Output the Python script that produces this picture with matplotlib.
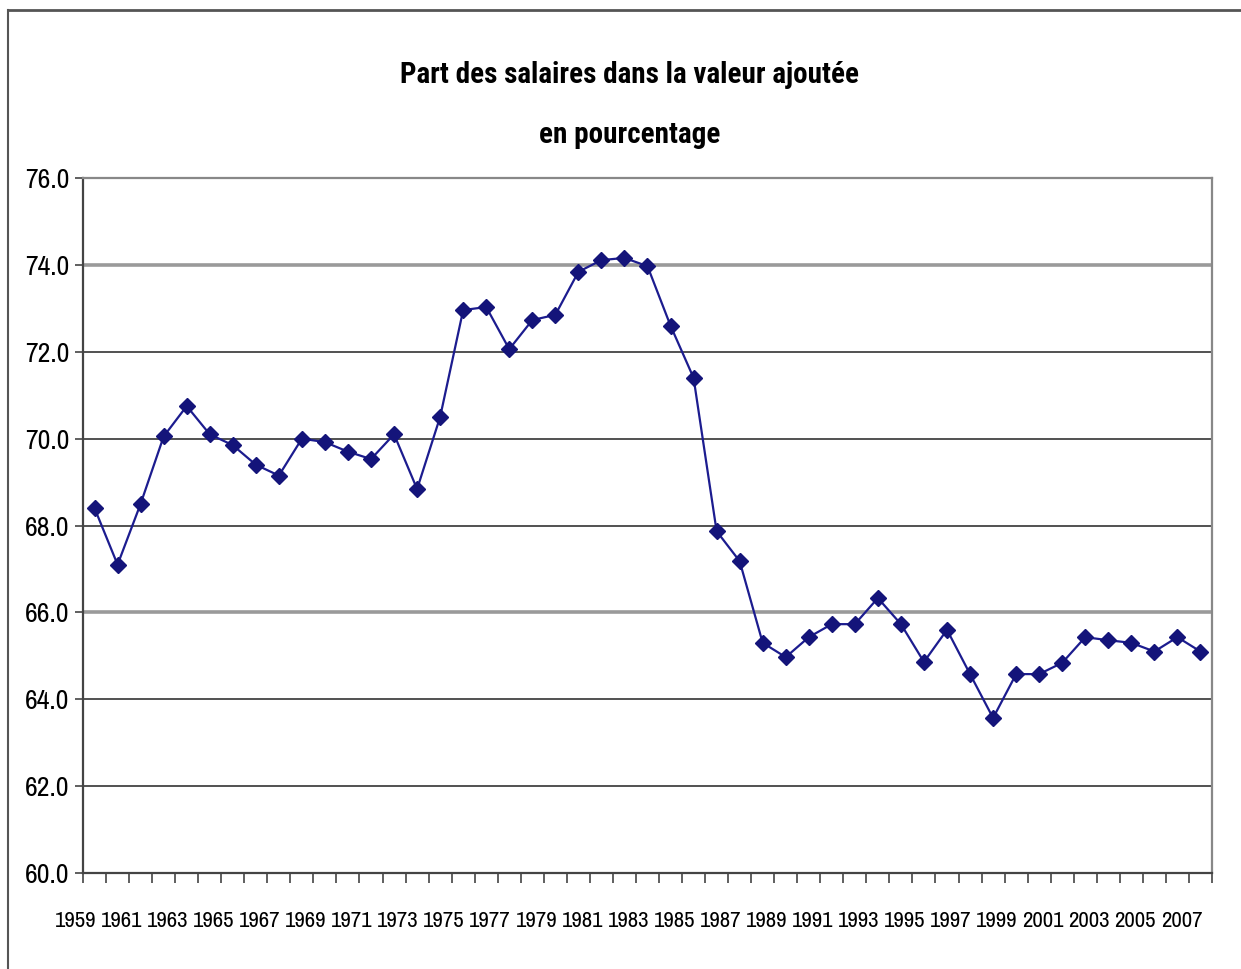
import numpy as np
import matplotlib
matplotlib.use("Agg")
import matplotlib.pyplot as plt
from matplotlib.lines import Line2D
from matplotlib.transforms import ScaledTranslation

plt.rcParams['font.family'] = ['Archivo Narrow', 'Liberation Sans', 'DejaVu Sans']

# Data: wage share of value added (%), 1959-2007
years = list(range(1959, 2008))
share = [68.4, 67.1, 68.5, 70.05, 70.75, 70.1, 69.85, 69.4, 69.15, 70.0,
         69.92, 69.7, 69.53, 70.1, 68.84, 70.5, 72.96, 73.03, 72.06, 72.73,
         72.85, 73.84, 74.11, 74.16, 73.97, 72.6, 71.4, 67.87, 67.18, 65.3,
         64.97, 65.43, 65.73, 65.73, 66.33, 65.73, 64.86, 65.6, 64.58, 63.57,
         64.58, 64.58, 64.84, 65.43, 65.36, 65.3, 65.1, 65.43, 65.1]
yticks = [60, 62, 64, 66, 68, 70, 72, 74, 76]

fig = plt.figure(figsize=(12.41, 9.69), dpi=100)
ax = fig.add_axes([0.0669, 0.099, 0.9097, 0.7173])

x = np.arange(len(years))
ax.plot(x, share, color='#1c1c8f', lw=1.6, marker='D', ms=8.5,
        markerfacecolor='#14147a', markeredgecolor='#14147a', zorder=3)

# horizontal gridlines
for v in yticks[1:-1]:
    if v in (66, 74):
        ax.axhline(v, color='#9a9a9a', lw=2.6, zorder=1)
    else:
        ax.axhline(v, color='#222222', lw=1.1, zorder=1)

ax.set_yticks(yticks)
ax.set_yticklabels([f"{v:.1f}" for v in yticks], fontsize=20)
ax.tick_params(axis='y', length=6, width=1.2, color='#444444', pad=4)

# tick marks between categories, labels every other year
ax.set_xticks(np.arange(-0.5, len(years)), minor=True)
ax.tick_params(axis='x', which='minor', length=7, width=1.2, color='#444444')
ax.set_xticks(x[::2])
ax.set_xticklabels([str(y) for y in years[::2]], fontsize=16.5)
ax.tick_params(axis='x', which='major', length=0, pad=27)
shift = ScaledTranslation(-19 / 100, 0, fig.dpi_scale_trans)
for lab in ax.get_xticklabels():
    lab.set_transform(lab.get_transform() + shift)

ax.set_xlim(-0.5, len(years) - 0.5)
ax.set_ylim(60, 76)

for side in ['top', 'right']:
    ax.spines[side].set_color('#888888')
    ax.spines[side].set_linewidth(1.6)
for side in ['left', 'bottom']:
    ax.spines[side].set_color('#444444')
    ax.spines[side].set_linewidth(1.6)

title_fonts = ['Roboto Condensed', 'Fira Sans Condensed', 'Liberation Sans', 'DejaVu Sans']
fig.text(630 / 1241, 1 - 75 / 969, "Part des salaires dans la valeur ajoutée",
         ha='center', va='center', fontsize=21, fontweight='bold', family=title_fonts)
fig.text(630 / 1241, 1 - 135 / 969, "en pourcentage",
         ha='center', va='center', fontsize=21, fontweight='bold', family=title_fonts)

# outer chart frame (top and left edges)
fig.add_artist(Line2D([8 / 1241, 1.0], [1 - 10 / 969, 1 - 10 / 969],
                      transform=fig.transFigure, color='#555555', lw=2))
fig.add_artist(Line2D([8 / 1241, 8 / 1241], [1 - 10 / 969, 0.0],
                      transform=fig.transFigure, color='#555555', lw=1.5))

fig.savefig("out.png", dpi=100)
